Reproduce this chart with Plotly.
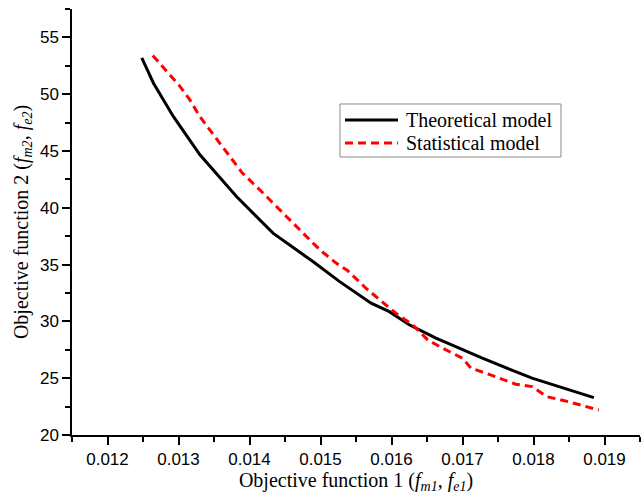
import plotly.graph_objects as go

theo_x = [0.012483, 0.012646, 0.012927, 0.013302, 0.013817, 0.014331, 0.01466, 0.014893,
          0.01527, 0.015713, 0.01597, 0.01625, 0.016626, 0.01728, 0.01798, 0.01885]
theo_y = [53.19, 50.99, 48.04, 44.67, 41.0, 37.77, 36.3, 35.27,
          33.5, 31.6, 30.86, 29.7, 28.52, 26.76, 25.0, 23.29]

stat_x = [0.012638, 0.01302, 0.01316, 0.0133, 0.01358, 0.0139, 0.01419, 0.01452, 0.0147,
          0.01499, 0.01522, 0.01538, 0.01564, 0.01583, 0.01606, 0.0163, 0.01651, 0.01672,
          0.017, 0.01712, 0.01733, 0.01775, 0.01798, 0.01819, 0.01845, 0.01892]
stat_y = [53.4, 50.69, 49.5, 48.04, 45.7, 43.06, 41.3, 39.2, 38.06,
          36.3, 35.13, 34.48, 32.92, 31.9, 30.72, 29.7, 28.37, 27.64,
          26.76, 25.88, 25.44, 24.47, 24.26, 23.37, 23.0, 22.2]

x_ticks = [0.012, 0.013, 0.014, 0.015, 0.016, 0.017, 0.018, 0.019]
y_ticks = [20, 25, 30, 35, 40, 45, 50, 55]

series_names = ["Theoretical model", "Statistical model"]
series_colors = ["black", "red"]
series_dash = ["solid", "8px,5px"]

fig = go.Figure()
fig.add_trace(go.Scatter(x=theo_x, y=theo_y, mode="lines", name=series_names[0],
                         line=dict(color=series_colors[0], width=3, dash=series_dash[0])))
fig.add_trace(go.Scatter(x=stat_x, y=stat_y, mode="lines", name=series_names[1],
                         line=dict(color=series_colors[1], width=3, dash=series_dash[1])))

serif = "Liberation Serif, Times New Roman, serif"
sans = "Liberation Sans, Arial, sans-serif"

# manual legend (paper coordinates)
shapes = [dict(type="rect", xref="paper", yref="paper", x0=0.4718, x1=0.8609, y0=0.6526, y1=0.777,
               line=dict(color="#8a8a8a", width=1), fillcolor="white", layer="above")]
annotations = []
row_y = [0.7394, 0.6854]
for name, col, dsh, ry in zip(series_names, series_colors, series_dash, row_y):
    shapes.append(dict(type="line", xref="paper", yref="paper", x0=0.4806, x1=0.5739, y0=ry, y1=ry,
                       line=dict(color=col, width=3, dash=dsh), layer="above"))
    annotations.append(dict(text=name, xref="paper", yref="paper", x=0.5845, y=ry,
                            xanchor="left", yanchor="middle", showarrow=False,
                            font=dict(family=serif, size=20, color="black")))

fig.update_layout(
    template="none",
    width=641, height=498,
    margin=dict(l=72, r=1, t=9, b=63, autoexpand=False),
    paper_bgcolor="white", plot_bgcolor="white",
    showlegend=False,
    shapes=shapes, annotations=annotations,
    xaxis=dict(range=[0.0115, 0.0195], tickvals=x_ticks,
               ticktext=[str(v) for v in x_ticks], automargin=False,
               showgrid=False, zeroline=False, showline=True, linecolor="black", linewidth=1.5,
               ticks="outside", ticklen=8, tickwidth=1.5, tickcolor="black",
               minor=dict(ticks="outside", ticklen=5, tickwidth=1.5, tickcolor="black", dtick=0.0005),
               tickfont=dict(family=sans, size=17, color="black"),
               title=dict(text="Objective function 1 (<i>f</i><sub><i>m1</i></sub>, <i>f</i><sub><i>e1</i></sub>)",
                          font=dict(family=serif, size=20, color="black"), standoff=4)),
    yaxis=dict(range=[20, 57.5], tickvals=y_ticks, automargin=False,
               showgrid=False, zeroline=False, showline=True, linecolor="black", linewidth=1.5,
               ticks="outside", ticklen=8, tickwidth=1.5, tickcolor="black",
               minor=dict(ticks="outside", ticklen=5, tickwidth=1.5, tickcolor="black", dtick=2.5),
               tickfont=dict(family=sans, size=17, color="black"),
               title=dict(text="Objective function 2 (<i>f</i><sub><i>m2</i></sub>, <i>f</i><sub><i>e2</i></sub>)",
                          font=dict(family=serif, size=20, color="black"), standoff=6)),
)

fig.write_html("out.html", config={"displayModeBar": False},
               post_script="document.body.style.margin='0';document.body.style.overflow='hidden';")
